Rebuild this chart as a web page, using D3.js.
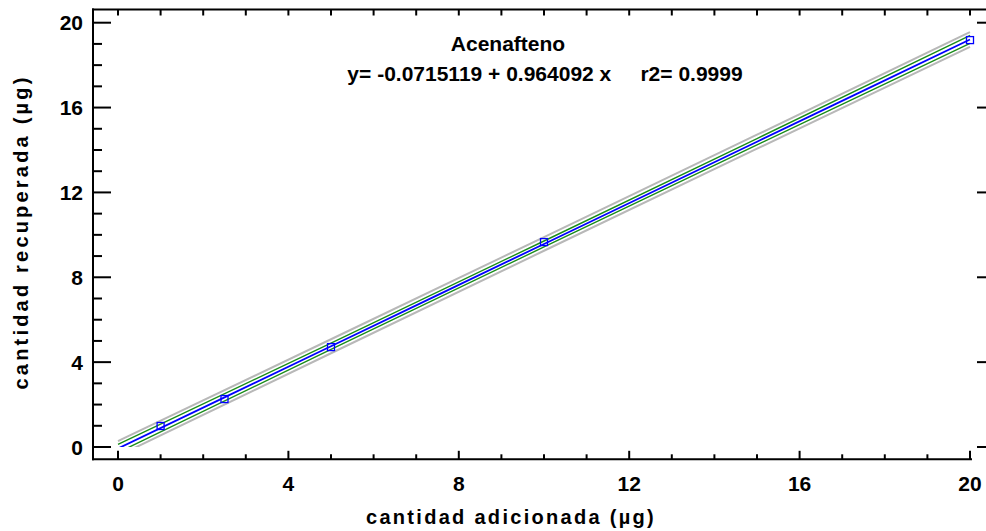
<!DOCTYPE html>
<html>
<head>
<meta charset="utf-8">
<script src="https://cdn.jsdelivr.net/npm/d3@7"></script>
<style>
	body { margin: 0; background: #fff; }
	svg text { font-family: "Liberation Sans", Arial, sans-serif; font-weight: bold; fill: #000; }
</style>
</head>
<body>
<svg id="chart" width="986" height="531"></svg>
<script>
// measured points (cantidad adicionada, cantidad recuperada)
var pointX = [1, 2.5, 5, 10, 20];
var pointY = [0.99, 2.26, 4.71, 9.66, 19.18];

// fitted line and bands, read at a few x positions
var bandX = [0, 5, 10, 15, 20];
var fitY = [-0.07, 4.75, 9.57, 14.39, 19.21];
var confUpper = [0.12, 4.90, 9.71, 14.54, 19.40];
var confLower = [-0.26, 4.60, 9.43, 14.24, 19.02];
var predUpper = [0.28, 5.08, 9.89, 14.72, 19.56];
var predLower = [-0.42, 4.42, 9.25, 14.06, 18.86];

var xTicks = [0, 4, 8, 12, 16, 20];
var yTicks = [0, 4, 8, 12, 16, 20];

var title = "Acenafteno";
var equation = "y= -0.0715119 + 0.964092 x     r2= 0.9999";
var xLabel = "cantidad adicionada (µg)";
var yLabel = "cantidad recuperada (µg)";

var svg = d3.select("#chart");

var x = d3.scaleLinear().domain([0, 20]).range([118, 970]);
var y = d3.scaleLinear().domain([0, 20]).range([447, 22.7]);

// frame edges (window.top is reserved, so plotTop)
var plotLeft = 93, plotTop = 9.5, plotBottom = 459.3, plotRight = 986;

// frame lines
svg.append("line").attr("x1", plotLeft).attr("x2", plotLeft).attr("y1", plotTop - 1).attr("y2", plotBottom + 1)
	.attr("stroke", "#000").attr("stroke-width", 2);
svg.append("line").attr("x1", plotLeft - 1).attr("x2", 972).attr("y1", plotBottom).attr("y2", plotBottom)
	.attr("stroke", "#000").attr("stroke-width", 2);
svg.append("line").attr("x1", plotLeft - 1).attr("x2", plotRight).attr("y1", plotTop).attr("y2", plotTop)
	.attr("stroke", "#000").attr("stroke-width", 2);

// ticks every unit, major every 4
var units = d3.range(0, 21);
units.forEach(function(u) {
	var major = u % 4 == 0;
	// bottom
	svg.append("line").attr("x1", x(u)).attr("x2", x(u))
		.attr("y1", plotBottom).attr("y2", plotBottom - (major ? 8.5 : 5))
		.attr("stroke", "#000").attr("stroke-width", 2);
	// top
	svg.append("line").attr("x1", x(u)).attr("x2", x(u))
		.attr("y1", plotTop).attr("y2", plotTop + 6)
		.attr("stroke", "#000").attr("stroke-width", 2);
	// left
	svg.append("line").attr("x1", plotLeft).attr("x2", plotLeft + (major ? 18 : 9))
		.attr("y1", y(u)).attr("y2", y(u))
		.attr("stroke", "#000").attr("stroke-width", 2);
	// right, majors only
	if (major) {
		svg.append("line").attr("x1", 977).attr("x2", plotRight)
			.attr("y1", y(u)).attr("y2", y(u))
			.attr("stroke", "#000").attr("stroke-width", 2);
	}
});

// tick labels
svg.selectAll(".xtick").data(xTicks).enter().append("text")
	.attr("class", "xtick")
	.attr("x", function(d) { return x(d); })
	.attr("y", 491)
	.attr("text-anchor", "middle")
	.style("font-size", "21px")
	.text(function(d) { return d; });

svg.selectAll(".ytick").data(yTicks).enter().append("text")
	.attr("class", "ytick")
	.attr("x", 83)
	.attr("y", function(d) { return y(d) + 7.5; })
	.attr("text-anchor", "end")
	.style("font-size", "21px")
	.text(function(d) { return d; });

// axis titles
svg.append("text")
	.attr("x", 511).attr("y", 524)
	.attr("text-anchor", "middle")
	.style("font-size", "20px")
	.style("letter-spacing", "2.3px")
	.text(xLabel);

svg.append("text")
	.attr("transform", "translate(28,232) rotate(-90)")
	.attr("text-anchor", "middle")
	.style("font-size", "20px")
	.style("letter-spacing", "3.2px")
	.text(yLabel);

// title and equation
svg.append("text")
	.attr("x", 508).attr("y", 51)
	.attr("text-anchor", "middle")
	.style("font-size", "21px")
	.text(title);

svg.append("text")
	.attr("x", 545).attr("y", 81)
	.attr("text-anchor", "middle")
	.style("font-size", "21px")
	.style("white-space", "pre")
	.attr("xml:space", "preserve")
	.text(equation);

// clip lines to the positive region of the data
svg.append("clipPath").attr("id", "plotclip")
	.append("rect")
	.attr("x", x(0) - 1).attr("y", plotTop)
	.attr("width", x(20) - x(0) + 6).attr("height", y(0) - plotTop);

var lineGen = function(values) {
	return d3.line()
		.x(function(d, i) { return x(bandX[i]); })
		.y(function(d) { return y(d); })
		.curve(d3.curveMonotoneX)(values);
};

var lines = svg.append("g").attr("clip-path", "url(#plotclip)");

[predUpper, predLower].forEach(function(v) {
	lines.append("path").attr("d", lineGen(v))
		.attr("fill", "none").attr("stroke", "#b8b8b8").attr("stroke-width", 2);
});
[confUpper, confLower].forEach(function(v) {
	lines.append("path").attr("d", lineGen(v))
		.attr("fill", "none").attr("stroke", "#1a8c1a").attr("stroke-width", 1.4);
});
lines.append("path").attr("d", lineGen(fitY))
	.attr("fill", "none").attr("stroke", "#0000ff").attr("stroke-width", 1.8);

// points
svg.selectAll(".pt").data(pointX).enter().append("rect")
	.attr("class", "pt")
	.attr("x", function(d) { return x(d) - 3.5; })
	.attr("y", function(d, i) { return y(pointY[i]) - 3.5; })
	.attr("width", 7).attr("height", 7)
	.attr("fill", "none").attr("stroke", "#0000ff").attr("stroke-width", 1.3);
</script>
</body>
</html>
